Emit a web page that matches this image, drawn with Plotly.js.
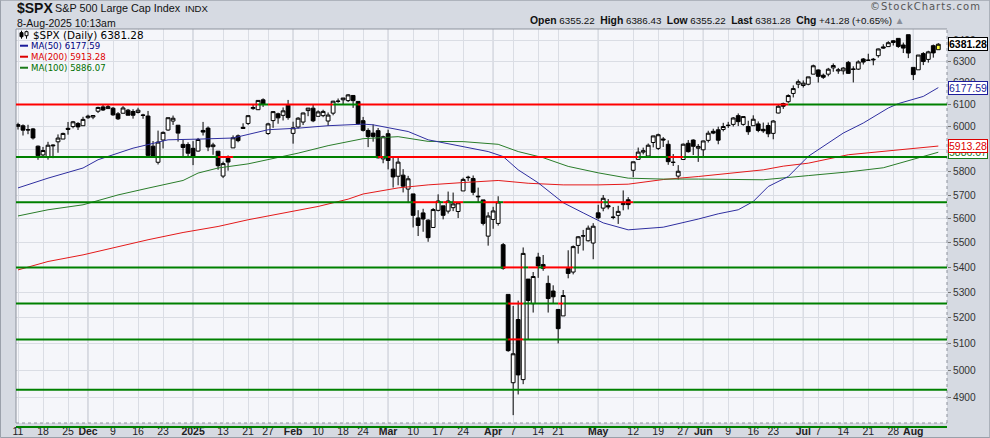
<!DOCTYPE html>
<html><head><meta charset="utf-8">
<script src="https://cdn.plot.ly/plotly-3.0.1.min.js"></script>
<style>html,body{margin:0;padding:0;background:#d6dae2;}#chart{width:990px;height:438px;}</style>
</head><body><div id="chart"></div>
<script>
// ---- x axis (trading-day positions, 0 = 11-Nov-2024) ----
const tickIdx  = [0,5,10,14,19,24,29,35,41,46,50,55,60,65,69,74,79,84,89,95,99,104,108,116,123,128,133,137,142,147,151,157,160,165,170,175,179];
const tickText = ['11','18','25','Dec','9','16','23','2025','13','21','27','Feb','10','18','24','Mar','10','17','24','Apr','7','14','21','May','12','19','27','Jun','9','16','23','Jul','7','14','21','28','Aug'];
const monthLabels = ['Dec','2025','Feb','Mar','Apr','May','Jun','Jul','Aug'];
const yTicks = [4900,5000,5100,5200,5300,5400,5500,5600,5700,5800,5900,6000,6100,6200,6300,6400];

// ---- daily OHLC ----
const open = [6008.86,6003.60,5985.75,5989.68,5912.79,5874.17,5863.06,5914.00,5932.15,5944.36,
5992.28,6000.03,6014.11,6003.98,6040.11,6042.97,6069.39,6089.03,6081.38,6083.01,
6057.59,6060.15,6074.29,6068.17,6063.79,6052.55,6047.65,5912.71,5842.00,5940.25,
5984.63,6024.97,6006.17,5920.67,5919.74,5903.26,5891.07,5982.81,5993.26,5910.66,
5890.66,5782.00,5859.14,5905.21,5958.53,5991.41,6014.12,6081.39,6076.32,6121.43,
5969.04,6026.97,6057.70,6050.75,6096.79,5969.65,5998.14,6020.45,6072.22,6083.13,
6046.40,6049.32,6025.08,6060.59,6115.52,6121.60,6117.76,6141.40,6114.10,6026.69,
5982.73,5970.87,5981.88,5856.74,5968.33,5811.98,5781.31,5785.87,5726.01,5705.37,
5603.65,5624.84,5594.45,5563.85,5635.60,5654.53,5632.37,5646.92,5630.73,5718.08,
5775.14,5771.66,5695.64,5679.92,5527.91,5597.53,5580.76,5492.74,5292.14,4953.79,
5193.57,4965.28,5353.15,5255.56,5441.96,5411.99,5335.75,5305.45,5232.94,5207.67,
5395.92,5381.38,5489.73,5529.22,5508.87,5499.44,5625.14,5645.02,5655.32,5605.88,
5614.50,5659.84,5680.36,5807.03,5854.61,5886.55,5869.46,5929.09,5902.88,5944.66,
5921.07,5841.26,5781.89,5854.07,5925.54,5939.92,5903.67,5896.68,5938.56,5978.94,
5985.67,5987.06,6004.60,6009.91,6049.38,6009.90,6000.56,6004.00,6012.15,5987.93,
6004.62,5969.67,6061.21,6104.59,6112.69,6150.70,6193.36,6187.25,6193.09,6240.03,
6259.75,6235.07,6240.04,6269.43,6255.15,6255.68,6295.29,6261.91,6263.51,6311.32,
6304.74,6306.60,6326.90,6368.60,6370.01,6397.69,6409.28,6377.77,6427.02,6271.71,
6260.44,6336.75,6309.32,6374.44,6355.22];
const high = [6017.31,6009.92,6008.19,5993.88,5915.36,5909.45,5932.07,5920.67,5965.06,5972.90,
6020.75,6025.42,6020.16,6044.17,6053.58,6052.06,6089.84,6099.97,6099.97,6088.51,
6065.40,6092.59,6079.68,6078.58,6085.19,6057.68,6070.67,5935.52,5982.06,5978.25,
6040.10,6049.75,6006.17,5940.79,5929.74,5935.09,5949.34,6021.04,6000.68,5927.89,
5890.66,5844.78,5871.92,5960.61,5964.69,6014.96,6051.51,6100.81,6118.73,6128.18,
6017.17,6069.98,6062.83,6086.64,6120.91,6022.13,6042.48,6062.86,6084.03,6101.28,
6073.38,6076.28,6063.71,6116.91,6127.47,6129.63,6147.43,6143.14,6114.82,6043.65,
5992.65,6009.82,5993.69,5959.40,5986.09,5865.08,5860.59,5812.08,5783.01,5705.37,
5636.30,5642.19,5597.78,5645.27,5703.52,5654.53,5715.33,5711.15,5670.84,5775.14,
5783.36,5784.60,5732.28,5679.92,5627.56,5650.57,5695.31,5499.53,5292.14,5246.57,
5267.47,5481.34,5353.15,5381.46,5459.46,5450.41,5367.24,5328.31,5232.94,5309.60,
5469.69,5489.40,5528.11,5553.66,5571.95,5581.84,5658.91,5700.70,5683.44,5649.85,
5654.79,5720.10,5691.50,5844.19,5906.63,5906.35,5924.61,5958.62,5968.61,5953.06,
5938.54,5878.08,5829.51,5924.33,5939.92,5943.13,5922.14,5937.40,5981.35,5990.48,
5999.70,6016.87,6021.31,6043.01,6059.40,6045.43,6026.16,6050.83,6023.25,6018.20,
6018.25,6028.81,6101.80,6108.51,6146.52,6187.68,6215.08,6210.78,6227.60,6284.65,
6262.33,6242.72,6269.43,6290.22,6269.10,6272.79,6302.04,6276.89,6304.89,6315.61,
6336.08,6316.12,6360.64,6381.31,6395.82,6401.07,6409.82,6389.27,6427.02,6271.71,
6329.94,6343.87,6350.25,6379.81,6386.43];
const low = [5986.69,5960.08,5965.91,5942.28,5853.01,5865.95,5853.61,5860.02,5883.84,5944.36,
5963.91,5992.27,5984.87,6003.98,6035.33,6033.39,6061.06,6070.67,6079.98,6048.63,
6029.89,6060.15,6051.25,6035.77,6059.14,6035.19,5867.79,5866.07,5832.30,5902.57,
5981.44,6007.37,5932.95,5869.16,5868.86,5829.53,5888.66,5960.01,5890.68,5874.78,
5809.44,5773.31,5805.48,5905.21,5930.13,5991.41,6006.88,6076.07,6074.67,6088.74,
5962.92,5994.43,6012.96,6027.46,6030.93,5923.93,5990.87,6007.06,6046.83,6019.96,
6044.84,6042.34,6003.00,6051.00,6107.62,6099.51,6111.15,6084.59,6008.56,5977.83,
5908.49,5932.69,5858.78,5837.66,5810.91,5732.59,5742.35,5711.64,5666.29,5564.02,
5528.41,5546.09,5504.65,5563.85,5631.12,5597.76,5622.20,5632.31,5603.10,5718.08,
5760.86,5699.79,5670.94,5572.42,5488.73,5558.52,5571.48,5390.83,5069.90,4835.04,
4910.42,4948.43,5115.27,5220.77,5358.02,5386.44,5220.79,5255.58,5101.63,5207.67,
5356.19,5371.96,5455.86,5468.64,5505.70,5433.24,5597.35,5631.68,5640.08,5598.18,
5578.64,5635.65,5639.43,5777.59,5853.12,5876.51,5865.21,5907.36,5895.69,5909.26,
5830.91,5825.82,5767.41,5854.07,5884.48,5873.80,5843.66,5861.43,5929.00,5966.11,
5921.20,5978.63,5994.18,6000.26,6002.32,6003.88,5963.21,6004.00,5974.80,5971.89,
5952.56,5943.23,6059.56,6080.01,6107.44,6132.35,6174.97,6177.97,6188.29,6240.03,
6201.01,6217.97,6230.15,6251.20,6241.62,6238.38,6241.33,6201.59,6259.73,6285.27,
6303.79,6281.71,6317.49,6360.57,6368.53,6375.22,6363.99,6339.45,6315.21,6212.69,
6260.44,6282.57,6294.19,6317.52,6355.22];
const close = [6001.35,5983.99,5985.38,5949.17,5870.62,5893.62,5916.98,5917.11,5948.71,5969.34,
5987.37,6021.63,5998.74,6032.38,6047.15,6049.88,6086.49,6075.11,6090.27,6052.85,
6034.91,6084.19,6051.25,6051.09,6074.08,6050.61,5872.16,5867.08,5930.85,5974.07,
6040.04,6037.59,5970.84,5906.94,5881.63,5868.55,5942.47,5975.38,5909.03,5918.25,
5827.04,5836.22,5842.91,5949.91,5937.34,5996.66,6049.24,6086.37,6118.71,6101.24,
6012.28,6067.70,6039.31,6071.17,6040.53,5994.57,6037.88,6061.48,6083.57,6025.99,
6066.44,6068.50,6051.97,6115.07,6114.63,6129.58,6144.15,6117.52,6013.13,5983.25,
5955.25,5956.06,5861.57,5954.50,5849.72,5778.15,5842.63,5738.52,5770.20,5614.56,
5572.07,5599.30,5521.52,5638.94,5675.12,5614.66,5675.29,5662.89,5667.56,5767.57,
5776.65,5712.20,5693.31,5580.94,5611.85,5633.07,5670.97,5396.52,5074.08,5062.25,
4982.77,5456.90,5268.05,5363.36,5405.97,5396.63,5275.70,5282.70,5158.20,5287.76,
5375.86,5484.77,5525.21,5528.75,5560.83,5569.06,5604.14,5686.67,5650.38,5606.91,
5631.28,5663.94,5659.91,5844.19,5886.55,5892.58,5916.93,5958.38,5963.60,5940.46,
5844.61,5842.01,5802.82,5921.54,5888.55,5912.17,5911.69,5935.94,5970.37,5970.81,
5939.30,6000.36,6005.88,6038.81,6022.24,6045.26,5976.97,6033.11,5982.72,5980.87,
5967.84,6025.17,6092.18,6092.16,6141.02,6173.07,6204.95,6198.01,6227.42,6279.35,
6229.98,6225.52,6263.26,6280.46,6259.75,6268.56,6243.76,6263.70,6297.36,6296.79,
6305.60,6309.62,6358.91,6363.35,6388.64,6389.77,6370.86,6362.90,6339.39,6238.01,
6329.94,6299.19,6345.06,6340.00,6381.28];

// ---- moving averages ----
const ma50Idx = [0,6,13,16,23,30,36,43,50,56,62,69,71,78,82,89,94,97,100,104,109,113,117,122,129,136,140,144,147,150,154,158,162,165,169,174,176,181,184];
const ma50Val = [5731,5773,5817,5853,5904,5941,5944,5949,5986,5993,6004,6011,6008,5978,5941,5912,5889,5867,5809,5753,5668,5625,5583,5554,5565,5599,5621,5638,5673,5737,5780,5868,5927,5971,6016,6084,6104,6137,6177.59];
const ma200Idx = [0,6,13,20,26,33,40,46,53,60,66,69,76,82,89,96,102,109,116,122,129,136,149,153,158,166,184];
const ma200Val = [5390,5424,5451,5485,5513,5543,5568,5596,5624,5652,5683,5705,5731,5744,5754,5763,5751,5744,5744,5747,5767,5780,5809,5825,5838,5875,5913.28];
const ma100Idx = [0,6,13,20,26,33,36,40,46,50,56,62,69,76,82,89,96,100,105,110,116,122,129,136,149,158,166,173,184];
const ma100Val = [5612,5638,5659,5701,5730,5763,5795,5817,5835,5853,5882,5915,5946,5955,5934,5933,5921,5889,5862,5824,5796,5773,5769,5769,5766,5784,5800,5818,5886.07];

// ---- horizontal support / resistance levels ----
const levels = [6100,5865,5670,5400,5256,5117,4928,4793];

// ---------------- geometry / style ----------------
const W=990,H=438,ML=16,MR=43.3,MT=29.3,MB=15;
const PW=W-ML-MR, PH=H-MT-MB;
const xRange=[-0.4,185.74];
const yRange=[3.68185,3.80986];
const px=X=>(X-ML)/PW, py=Y=>(H-MB-Y)/PH;
const xPaper=i=>(i-xRange[0])/(xRange[1]-xRange[0]);
const RED='#ff0000', GRN='#008000';
const FONT='Liberation Sans, Arial, sans-serif';
const LFONT='DejaVu Sans, Verdana, sans-serif';
const n=close.length, last=n-1;
const xs=close.map((_,i)=>i);

const traces=[];
traces.push({type:'candlestick',x:xs.slice(0,last),open:open.slice(0,last),high:high.slice(0,last),low:low.slice(0,last),close:close.slice(0,last),
  increasing:{line:{color:'#000',width:1},fillcolor:'#ffffff'},decreasing:{line:{color:'#000',width:1},fillcolor:'#000000'},
  whiskerwidth:0,showlegend:false,hoverinfo:'skip'});
traces.push({type:'candlestick',x:[last],open:[open[last]],high:[high[last]],low:[low[last]],close:[close[last]],
  increasing:{line:{color:'#000',width:1},fillcolor:'#ffff40'},decreasing:{line:{color:'#000',width:1},fillcolor:'#ffff40'},
  whiskerwidth:0,showlegend:false,hoverinfo:'skip'});
traces.push({type:'scatter',mode:'lines',x:ma200Idx,y:ma200Val,line:{color:'#e41a1a',width:1},showlegend:false,hoverinfo:'skip'});
traces.push({type:'scatter',mode:'lines',x:ma100Idx,y:ma100Val,line:{color:'#2a7d2a',width:1},showlegend:false,hoverinfo:'skip'});
traces.push({type:'scatter',mode:'lines',x:ma50Idx,y:ma50Val,line:{color:'#2f2fa0',width:1},showlegend:false,hoverinfo:'skip'});

// price tags on the right axis (arrow heads)
const tags=[
  {v:ma100Val[ma100Val.length-1],c:'#1a7a1a',b:false},
  {v:ma200Val[ma200Val.length-1],c:'#dd0000',b:false},
  {v:ma50Val[ma50Val.length-1],c:'#1c1c9a',b:false},
  {v:close[last],c:'#000000',b:true}
];
traces.push({type:'scatter',mode:'markers',x:tags.map(()=>xRange[1]+0.2),y:tags.map(t=>t.v),cliponaxis:false,
  marker:{symbol:'triangle-left',size:7,color:'#ffffff',line:{color:tags.map(t=>t.c),width:1}},showlegend:false,hoverinfo:'skip'});

const shapes=[];
const ann=[];
// darker month grid lines
tickIdx.forEach((t,k)=>{ if(monthLabels.includes(tickText[k])) shapes.push({type:'line',xref:'x',yref:'paper',x0:t,x1:t,y0:0,y1:1,layer:'below',line:{color:'#b9bdc7',width:1}}); });
// plot frame
const fr='#8d929c';
shapes.push({type:'line',xref:'paper',yref:'paper',x0:0,x1:1,y0:1,y1:1,line:{color:fr,width:1}});
shapes.push({type:'line',xref:'paper',yref:'paper',x0:0,x1:0,y0:0,y1:1,line:{color:fr,width:1}});
shapes.push({type:'line',xref:'paper',yref:'paper',x0:1,x1:1,y0:0,y1:1,line:{color:fr,width:1,dash:'dot'}});
shapes.push({type:'line',xref:'paper',yref:'paper',x0:0,x1:1,y0:0,y1:0,line:{color:fr,width:1,dash:'dot'}});
// levels with colour by close vs level
levels.forEach(lv=>{
  const inRange = Math.log10(lv)>=yRange[0];
  const yPap = (Math.log10(lv)-yRange[0])/(yRange[1]-yRange[0]);
  const push=(a,b,c)=>{
    if(inRange) shapes.push({type:'line',xref:'x',yref:'y',x0:a,x1:b,y0:lv,y1:lv,line:{color:c,width:2}});
    else ann.push({xref:'paper',yref:'paper',x:xPaper(a),y:yPap,xanchor:'left',yanchor:'middle',showarrow:false,
      text:'\u00a0',font:{size:1},width:(xPaper(b)-xPaper(a))*PW,height:2,borderpad:0,borderwidth:0,bgcolor:c});
  };
  let start=xRange[0], col=close[0]>lv?GRN:RED;
  for(let i=1;i<n;i++){const c=close[i]>lv?GRN:RED; if(c!==col){push(start,i,col);start=i;col=c;}}
  push(start,xRange[1],col);
});
// outer border
shapes.push({type:'rect',xref:'paper',yref:'paper',x0:px(0.5),x1:px(W-0.5),y0:py(0.5),y1:py(H-0.5),line:{color:'#9aa0aa',width:1}});
// legend icons
[[46,'#1c1c9a'],[57,'#dd0000'],[68,'#1a7a1a']].forEach(([yy,c])=>shapes.push({type:'line',xref:'paper',yref:'paper',x0:px(20),x1:px(28),y0:py(yy),y1:py(yy),line:{color:c,width:2}}));
shapes.push({type:'line',xref:'paper',yref:'paper',x0:px(21.5),x1:px(21.5),y0:py(31),y1:py(39),line:{color:'#000',width:1}});
shapes.push({type:'rect',xref:'paper',yref:'paper',x0:px(20),x1:px(23),y0:py(33),y1:py(37),line:{color:'#000',width:1},fillcolor:'#000'});
shapes.push({type:'line',xref:'paper',yref:'paper',x0:px(26.5),x1:px(26.5),y0:py(31),y1:py(39),line:{color:'#000',width:1}});
shapes.push({type:'rect',xref:'paper',yref:'paper',x0:px(25),x1:px(28),y0:py(32),y1:py(36),line:{color:'#000',width:1},fillcolor:'#fff'});

const fmt=v=>v.toFixed(2);
const chg=close[last]-close[last-1];
const pct=chg/close[last-1]*100;
const sp='\u00a0';
const A=(o)=>ann.push(Object.assign({xref:'paper',yref:'paper',showarrow:false,xanchor:'left',yanchor:'middle'},o));
// header
A({x:px(15),y:py(8),text:'<b>$SPX</b>',font:{family:FONT,size:14,color:'#111'}});
A({x:px(53),y:py(8.5),text:'S&amp;P 500 Large Cap Index',font:{family:FONT,size:10.8,color:'#111'}});
A({x:px(183),y:py(9),text:'INDX',font:{family:FONT,size:9.6,color:'#111'}});
A({x:px(15),y:py(23.5),text:'8-Aug-2025 10:13am',font:{family:FONT,size:10.5,color:'#111'}});
A({x:px(983),y:py(7),xanchor:'right',text:'<span style="letter-spacing:1px">\u00a9StockCharts.com</span>',font:{family:LFONT,size:10,color:'#555'}});
const B=t=>'<span style="font-size:10.4px"><b>'+t+'</b></span>';
A({x:px(907),y:py(21),xanchor:'right',text:B('Open')+sp+fmt(open[last])+sp+sp+B('High')+sp+fmt(high[last])+sp+sp+B('Low')+sp+fmt(low[last])+sp+sp+B('Last')+sp+fmt(close[last])+sp+sp+B('Chg')+sp+(chg>=0?'+':'')+fmt(chg)+sp+'('+(pct>=0?'+':'')+pct.toFixed(2)+'%)'+sp+'<span style="color:#8a8f99">\u25b2</span>',font:{family:FONT,size:9.8,color:'#111'}});
// legend
A({x:px(31),y:py(35),text:'$SPX (Daily) '+fmt(close[last]),font:{family:LFONT,size:10.4,color:'#000'}});
A({x:px(29),y:py(46),text:'MA(50) '+fmt(ma50Val[ma50Val.length-1]),font:{family:LFONT,size:8.6,color:'#000080'}});
A({x:px(29),y:py(57),text:'MA(200) '+fmt(ma200Val[ma200Val.length-1]),font:{family:LFONT,size:8.6,color:'#dd0000'}});
A({x:px(29),y:py(68),text:'MA(100) '+fmt(ma100Val[ma100Val.length-1]),font:{family:LFONT,size:8.6,color:'#007000'}});
// right price tags
tags.forEach(t=>ann.push({xref:'paper',yref:'y',x:px(948),y:Math.log10(t.v),xanchor:'left',yanchor:'middle',showarrow:false,
  text:t.b?'<b>'+fmt(t.v)+'</b>':fmt(t.v),font:{family:FONT,size:10.5,color:t.c},bgcolor:'#ffffff',bordercolor:t.c,borderwidth:1,borderpad:0}));

const layout={
  width:W,height:H,margin:{l:ML,r:MR,t:MT,b:MB,pad:0},
  paper_bgcolor:'#d6dae2',plot_bgcolor:'#f5f6fa',
  showlegend:false,hovermode:false,boxgap:0.2,boxgroupgap:0.05,
  xaxis:{type:'linear',range:xRange,tickmode:'array',tickvals:tickIdx,
    ticktext:tickText.map(t=>monthLabels.includes(t)?'<b>'+t+'</b>':t),
    showgrid:true,gridcolor:'#dadde4',gridwidth:1,zeroline:false,showline:false,ticks:'',
    tickfont:{family:FONT,size:10.5,color:'#222'},rangeslider:{visible:false},fixedrange:true},
  yaxis:{type:'log',side:'right',range:yRange,tickmode:'array',tickvals:yTicks,ticktext:yTicks.map(String),
    showgrid:true,gridcolor:'#dadde4',gridwidth:1,zeroline:false,showline:false,ticks:'outside',ticklen:3,tickcolor:'#777',
    tickfont:{family:FONT,size:10.2,color:'#333'},fixedrange:true},
  shapes:shapes,annotations:ann
};
Plotly.newPlot('chart',traces,layout,{staticPlot:true,displayModeBar:false});
</script></body></html>
